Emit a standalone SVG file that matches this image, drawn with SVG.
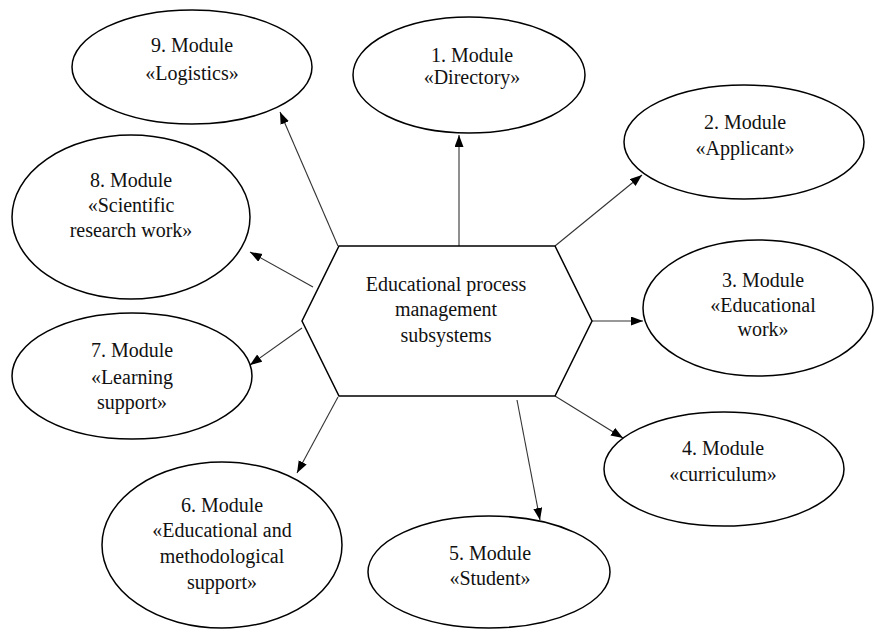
<svg xmlns="http://www.w3.org/2000/svg" width="874" height="630" viewBox="0 0 874 630">
<defs>
<marker id="arr" markerUnits="userSpaceOnUse" markerWidth="13" markerHeight="10" refX="12" refY="4.5" orient="auto">
<path d="M0,0 L12,4.5 L0,9 z" fill="#000"/>
</marker>
<style>
.n{fill:#fff;stroke:#000;stroke-width:1.5}
.t{font-family:"Liberation Serif","Times New Roman",serif;font-size:20px;fill:#111;text-anchor:middle}
.c line{stroke:#333;stroke-width:1.1;marker-end:url(#arr)}
</style>
</defs>
<rect width="874" height="630" fill="#fff"/>
<g class="c" id="connectors">
<line x1="459" y1="246" x2="459" y2="135"/>
<line x1="555" y1="246" x2="642" y2="175"/>
<line x1="592" y1="321" x2="643" y2="321"/>
<line x1="555" y1="396" x2="623" y2="438"/>
<line x1="517" y1="400" x2="540" y2="520"/>
<line x1="338" y1="397" x2="297" y2="473"/>
<line x1="302" y1="328" x2="250" y2="365"/>
<line x1="313" y1="287" x2="250" y2="252"/>
<line x1="338" y1="246" x2="280" y2="112"/>
</g>
<g id="hub">
<polygon class="n" points="339,246 555,246 592,321 555,396 339,396 302,321"/>
<text class="t" x="446" y="291">Educational process</text>
<text class="t" x="446" y="316">management</text>
<text class="t" x="446" y="342">subsystems</text>
</g>
<g id="m1">
<ellipse class="n" cx="469" cy="75" rx="116" ry="58"/>
<text class="t" x="472" y="62">1. Module</text>
<text class="t" x="472" y="84">«Directory»</text>
</g>
<g id="m2">
<ellipse class="n" cx="744" cy="142" rx="120" ry="57"/>
<text class="t" x="745" y="129">2. Module</text>
<text class="t" x="745" y="155">«Applicant»</text>
</g>
<g id="m3">
<ellipse class="n" cx="758" cy="308" rx="115" ry="68"/>
<text class="t" x="763" y="287">3. Module</text>
<text class="t" x="763" y="312">«Educational</text>
<text class="t" x="763" y="336">work»</text>
</g>
<g id="m4">
<ellipse class="n" cx="724" cy="469" rx="120" ry="57"/>
<text class="t" x="723" y="455">4. Module</text>
<text class="t" x="723" y="481">«curriculum»</text>
</g>
<g id="m5">
<ellipse class="n" cx="489" cy="572" rx="121" ry="56"/>
<text class="t" x="490" y="560">5. Module</text>
<text class="t" x="490" y="585">«Student»</text>
</g>
<g id="m6">
<ellipse class="n" cx="222" cy="545" rx="120" ry="83"/>
<text class="t" x="222" y="512">6. Module</text>
<text class="t" x="222" y="537">«Educational and</text>
<text class="t" x="222" y="563">methodological</text>
<text class="t" x="222" y="589">support»</text>
</g>
<g id="m7">
<ellipse class="n" cx="132" cy="376" rx="120" ry="63"/>
<text class="t" x="132" y="357">7. Module</text>
<text class="t" x="132" y="384">«Learning</text>
<text class="t" x="132" y="409">support»</text>
</g>
<g id="m8">
<ellipse class="n" cx="131" cy="217" rx="119" ry="82"/>
<text class="t" x="131" y="187">8. Module</text>
<text class="t" x="131" y="212">«Scientific</text>
<text class="t" x="131" y="237">research work»</text>
</g>
<g id="m9">
<ellipse class="n" cx="192" cy="67" rx="120" ry="57"/>
<text class="t" x="192" y="52">9. Module</text>
<text class="t" x="192" y="80">«Logistics»</text>
</g>
</svg>
